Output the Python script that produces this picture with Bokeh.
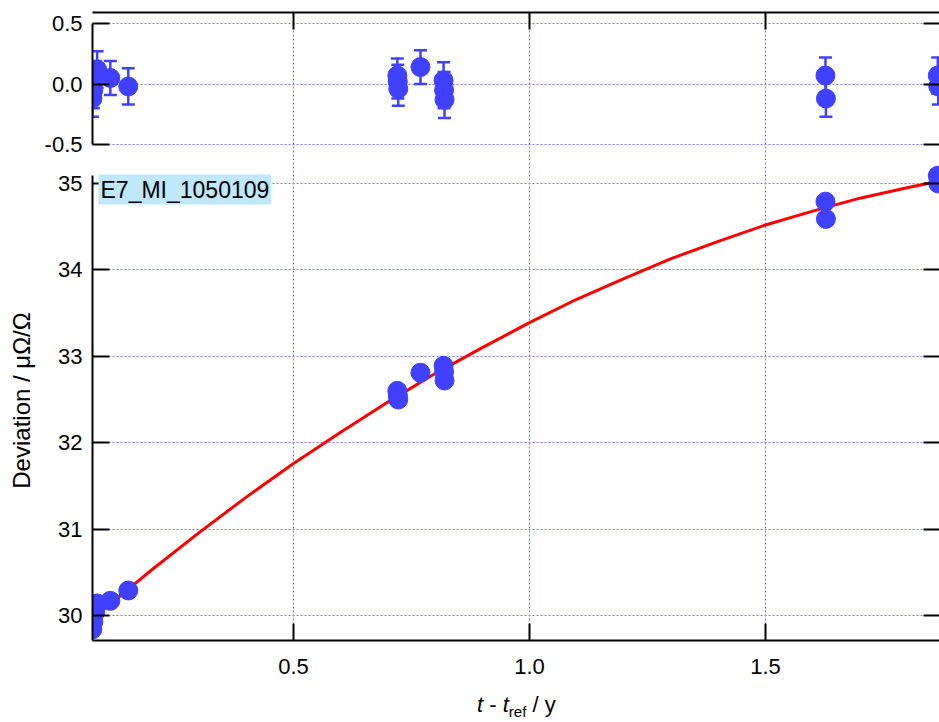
from bokeh.plotting import figure
from bokeh.layouts import column
from bokeh.models import (Range1d, LinearAxis, FixedTicker, PrintfTickFormatter,
                          CustomJSTickFormatter, Whisker, TeeHead, ColumnDataSource,
                          Label, Div)
from bokeh.embed import file_html
from bokeh.resources import INLINE

# ---------------- data ----------------
t_years = [0.074, 0.076, 0.080, 0.084, 0.112, 0.150,
           0.720, 0.721, 0.722, 0.769, 0.818, 0.819, 0.820,
           1.627, 1.628, 1.865, 1.866]
deviation = [29.84, 29.93, 30.04, 30.14, 30.17, 30.29,
             32.60, 32.55, 32.50, 32.81, 32.89, 32.82, 32.72,
             34.79, 34.59, 35.09, 35.00]
residual = [-0.12, -0.05, 0.04, 0.12, 0.05, -0.02,
            0.07, 0.02, -0.04, 0.14, 0.03, -0.05, -0.13,
            0.07, -0.12, 0.07, -0.02]
uncertainty = [0.15, 0.15, 0.15, 0.15, 0.14, 0.15,
               0.14, 0.14, 0.14, 0.14, 0.15, 0.15, 0.15,
               0.15, 0.15, 0.15, 0.15]
fit_t = [0.074, 0.1, 0.2, 0.3, 0.4, 0.5, 0.6, 0.7, 0.8, 0.9, 1.0,
         1.1, 1.2, 1.3, 1.4, 1.5, 1.6, 1.7, 1.8, 1.87]
fit_dev = [29.96, 30.08, 30.53, 30.96, 31.37, 31.76, 32.12, 32.47, 32.80, 33.10, 33.39,
           33.66, 33.90, 34.13, 34.33, 34.52, 34.68, 34.83, 34.95, 35.03]
x_ticks = [0.5, 1.0, 1.5]
res_ticks = [-0.5, 0.0, 0.5]
dev_ticks = [30, 31, 32, 33, 34, 35]
run_label = "E7_MI_1050109"
y_label = "Deviation / μΩ/Ω"
x_title_html = ('<i>t</i> - <i>t</i>'
                '<span style="font-size:15px;position:relative;top:5px">ref</span> / y')

FONT = "Liberation Sans"
BLUE = "#4040ff"
RED = "#ff0000"
GRID = "#7878ff"
FS = "22px"
W = 939

x_range = Range1d(0.0742, 1.8686)


def style_axis(ax, ticks, fmt, labels=True, tick_in=17, line=True, bounds=None):
    ax.ticker = FixedTicker(ticks=ticks)
    ax.major_tick_in = tick_in
    ax.major_tick_out = 0
    ax.minor_tick_in = 0
    ax.minor_tick_out = 0
    ax.major_tick_line_color = "black"
    ax.major_tick_line_width = 2
    ax.axis_line_color = "black" if line else None
    ax.axis_line_width = 2
    ax.major_label_text_font = FONT
    ax.major_label_text_color = "black"
    ax.major_label_text_font_size = FS
    if labels:
        ax.formatter = PrintfTickFormatter(format=fmt)
        ax.major_label_standoff = 10
    else:
        ax.formatter = CustomJSTickFormatter(code="return ''")
        ax.major_label_standoff = 0
    if bounds is not None:
        ax.bounds = bounds


def style_grid(g):
    g.grid_line_color = GRID
    g.grid_line_width = 1
    g.grid_line_dash = "2 2"


# ---------------- top panel: residuals ----------------
top = figure(width=W, height=160, x_range=x_range, y_range=Range1d(-0.632, 0.591),
             x_axis_location="above", output_backend="svg", toolbar_location=None,
             min_border_left=92, min_border_right=0, min_border_top=12, min_border_bottom=0)
top.outline_line_color = None
style_axis(top.xaxis[0], x_ticks, "%.1f", labels=False)
style_axis(top.yaxis[0], res_ticks, "%.1f", bounds=(-0.5, 0.5))
r_top = LinearAxis()
style_axis(r_top, res_ticks, "%.1f", labels=False, tick_in=16, line=False)
top.add_layout(r_top, "right")
style_grid(top.xgrid[0])
style_grid(top.ygrid[0])

src = ColumnDataSource(dict(t=t_years, dev=deviation, res=residual,
                            hi=[r + u for r, u in zip(residual, uncertainty)],
                            lo=[r - u for r, u in zip(residual, uncertainty)]))
wh = Whisker(source=src, base="t", upper="hi", lower="lo", dimension="height",
             line_color=BLUE, line_width=2.5,
             upper_head=TeeHead(size=13, line_color=BLUE, line_width=2.5),
             lower_head=TeeHead(size=13, line_color=BLUE, line_width=2.5))
top.add_layout(wh)
top.scatter("t", "res", source=src, size=19, fill_color=BLUE, line_color=BLUE)

# ---------------- bottom panel: deviation ----------------
bot = figure(width=W, height=526, x_range=x_range, y_range=Range1d(29.711, 35.266),
             output_backend="svg", toolbar_location=None,
             min_border_left=92, min_border_right=0, min_border_top=0, min_border_bottom=46)
bot.outline_line_color = None
style_axis(bot.xaxis[0], x_ticks, "%.1f")
bot.xaxis[0].major_label_standoff = 18
style_axis(bot.yaxis[0], dev_ticks, "%d", bounds=(29.711, 35.093))
bot.yaxis[0].axis_label = y_label
bot.yaxis[0].axis_label_text_font = FONT
bot.yaxis[0].axis_label_text_font_size = "24px"
bot.yaxis[0].axis_label_text_font_style = "normal"
bot.yaxis[0].axis_label_text_color = "black"
bot.yaxis[0].axis_label_standoff = 20
r_bot = LinearAxis()
style_axis(r_bot, dev_ticks, "%d", labels=False, tick_in=16, line=False)
bot.add_layout(r_bot, "right")
style_grid(bot.xgrid[0])
style_grid(bot.ygrid[0])

bot.line(fit_t, fit_dev, line_color=RED, line_width=3)
bot.scatter("t", "dev", source=src, size=19, fill_color=BLUE, line_color=BLUE)

bot.add_layout(Label(x=6, y=466, x_units="screen", y_units="screen", text=run_label,
                     text_font=FONT, text_font_size="23px", text_color="black",
                     text_align="left", text_baseline="top",
                     background_fill_color="#bfe8fa", padding=2))

# ---------------- x-axis title (italic t, subscript "ref") ----------------
cap = Div(text=('<div style="padding-left:477px;padding-top:8px;line-height:22px;'
                'white-space:nowrap;margin:0">' + x_title_html + '</div>'),
          width=W, height=36,
          styles={"font-family": FONT, "font-size": FS, "color": "black",
                  "margin": "0", "padding": "0", "overflow": "visible"})

layout = column(top, bot, cap)
open("out.html", "w").write(file_html(layout, INLINE))
